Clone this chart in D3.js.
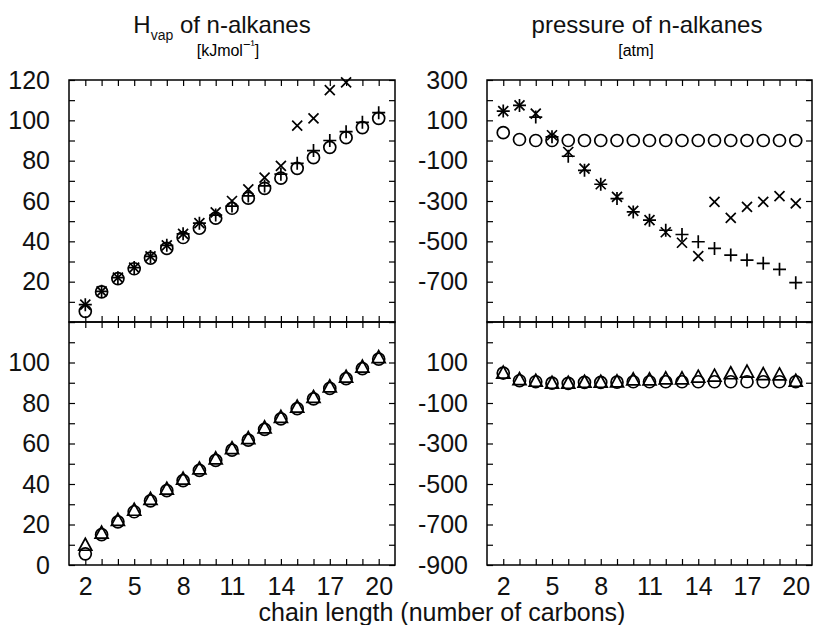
<!DOCTYPE html>
<html>
<head>
<meta charset="utf-8">
<script src="https://cdn.jsdelivr.net/npm/d3@7"></script>
<style>
  body { margin: 0; background: #fff; }
  svg { display: block; font-family: "Liberation Sans", Arial, Helvetica, sans-serif; }
</style>
</head>
<body>
<svg id="chart" width="813" height="625"></svg>
<script>
// chain length (number of carbons)
const carbons = [2, 3, 4, 5, 6, 7, 8, 9, 10, 11, 12, 13, 14, 15, 16, 17, 18, 19, 20]
const xLabels = [2, 5, 8, 11, 14, 17, 20]

// Hvap, top panel
const hvapCircleTop = [5.3, 14.9, 21.5, 26.4, 31.7, 36.5, 41.9, 46.5, 51.5, 56.4, 61.4, 66.3, 71.3, 76.2, 81.5, 86.6, 91.4, 96.4, 101.0]
const hvapPlusTop   = [8.6, 15.2, 22.0, 27.0, 32.5, 38.0, 43.7, 49.0, 53.0, 57.5, 62.5, 67.5, 73.3, 78.7, 85.0, 90.0, 94.4, 99.0, 103.8]
const hvapCrossTop  = [8.6, 15.2, 22.0, 27.0, 32.5, 38.0, 43.7, 49.0, 54.4, 60.0, 65.8, 71.6, 77.4, 97.4, 101.0, 115.0, 118.8, null, null]
// Hvap, bottom panel
const hvapCircleBot = [5.5, 15.0, 21.3, 26.3, 31.7, 36.7, 41.7, 46.7, 51.7, 56.7, 61.7, 67.0, 72.2, 77.2, 82.0, 87.2, 92.0, 97.0, 101.7]
const hvapTriBot    = [9.5, 15.5, 21.8, 26.8, 32.2, 37.2, 42.2, 47.2, 52.2, 57.2, 62.2, 67.5, 72.7, 77.7, 82.5, 87.7, 92.5, 97.5, 102.2]

// pressure, top panel
const presCircleTop = [39, 5, 0, 0, 0, 0, 0, 0, 0, 0, 0, 0, 0, 0, 0, 0, 0, 0, 0]
const presPlusTop   = [146, 174, 116, 18, -78, -148, -217, -288, -354, -395, -445, -466, -502, -535, -568, -593, -609, -639, -705]
const presCrossTop  = [146, 174, 133, 26, -57, -139, -217, -280, -349, -395, -455, -507, -573, -304, -384, -329, -304, -276, -312]
// pressure, bottom panel
const presCircleBot = [48, 10, 5, -2, -3, 2, 2, 3, 5, 5, 5, 5, 5, 5, 5, 5, 5, 5, 5]
const presTriBot    = [45, 13, 5, -5, -5, 0, 0, 2, 12, 12, 17, 17, 25, 30, 42, 50, 38, 36, 5]

const hvapTicks     = [0, 10, 20, 30, 40, 50, 60, 70, 80, 90, 100, 110, 120]
const hvapLabelsTop = [20, 40, 60, 80, 100, 120]
const hvapLabelsBot = [0, 20, 40, 60, 80, 100]
const presTicks     = [-900, -800, -700, -600, -500, -400, -300, -200, -100, 0, 100, 200, 300]
const presLabelsTop = [300, 100, -100, -300, -500, -700]
const presLabelsBot = [100, -100, -300, -500, -700, -900]

const svg = d3.select('#chart')
const TICK = 6
const FONT = '"Liberation Sans", Arial, sans-serif'

const COL_X = [[69, 395], [487, 812]]
const ROW_Y = [[80, 322], [322, 565]]

const panels = [
  { col: 0, row: 0, domain: [0, 120], ticks: hvapTicks, labels: hvapLabelsTop,
    series: [{ v: hvapCircleTop, sym: 'circle' }, { v: hvapPlusTop, sym: 'plus' }, { v: hvapCrossTop, sym: 'cross' }] },
  { col: 0, row: 1, domain: [0, 120], ticks: hvapTicks, labels: hvapLabelsBot,
    series: [{ v: hvapCircleBot, sym: 'circle' }, { v: hvapTriBot, sym: 'tri' }] },
  { col: 1, row: 0, domain: [-900, 300], ticks: presTicks, labels: presLabelsTop,
    series: [{ v: presCircleTop, sym: 'circle' }, { v: presPlusTop, sym: 'plus' }, { v: presCrossTop, sym: 'cross' }] },
  { col: 1, row: 1, domain: [-900, 300], ticks: presTicks, labels: presLabelsBot,
    series: [{ v: presCircleBot, sym: 'circle' }, { v: presTriBot, sym: 'tri' }] },
]

function symbolPath(sym) {
  if (sym === 'circle') return 'M6,0A6,6 0 1,1 -6,0A6,6 0 1,1 6,0Z'
  if (sym === 'plus')   return 'M-6.5,0H6.5M0,-6.5V6.5'
  if (sym === 'cross')  return 'M-5,-5L5,5M-5,5L5,-5'
  return 'M0,-7.5L6.5,4.5H-6.5Z'
}

for (const p of panels) {
  const [x0, x1] = COL_X[p.col]
  const [y0, y1] = ROW_Y[p.row]
  const x = d3.scaleLinear().domain([1, 21]).range([x0, x1])
  const y = d3.scaleLinear().domain(p.domain).range([y1, y0])
  const g = svg.append('g')

  // inward ticks on all four sides
  g.append('g').attr('transform', `translate(${x0},0)`)
    .call(d3.axisLeft(y).tickValues(p.ticks).tickSize(-TICK).tickSizeOuter(0).tickFormat(''))
  g.append('g').attr('transform', `translate(${x1},0)`)
    .call(d3.axisRight(y).tickValues(p.ticks).tickSize(-TICK).tickSizeOuter(0).tickFormat(''))
  g.append('g').attr('transform', `translate(0,${y0})`)
    .call(d3.axisTop(x).tickValues(carbons).tickSize(-TICK).tickSizeOuter(0).tickFormat(''))
  g.append('g').attr('transform', `translate(0,${y1})`)
    .call(d3.axisBottom(x).tickValues(carbons).tickSize(-TICK).tickSizeOuter(0).tickFormat(''))
  g.selectAll('.tick text').remove()

  // labels (plain hyphen for negatives, as in the original)
  g.append('g').attr('class', 'lbl').attr('transform', `translate(${x0},0)`)
    .call(d3.axisLeft(y).tickValues(p.labels).tickSize(0).tickPadding(19).tickFormat(d => String(d)))
  if (p.row === 1) {
    g.append('g').attr('class', 'lbl').attr('transform', `translate(0,${y1})`)
      .call(d3.axisBottom(x).tickValues(xLabels).tickSize(0).tickPadding(12).tickFormat(d => String(d)))
  }

  g.selectAll('.domain').remove()
  g.selectAll('.tick line').attr('stroke', '#000').attr('stroke-width', 1.2)
  g.selectAll('.lbl .tick text').attr('fill', '#111').attr('font-size', '25px').attr('font-family', FONT)

  g.append('rect')
    .attr('x', x0).attr('y', y0).attr('width', x1 - x0).attr('height', y1 - y0)
    .attr('fill', 'none').attr('stroke', '#000').attr('stroke-width', 1.5)

  for (const s of p.series) {
    const pts = carbons.map((c, i) => [c, s.v[i]]).filter(d => d[1] != null)
    g.append('g').selectAll('path').data(pts).enter().append('path')
      .attr('transform', d => `translate(${x(d[0])},${y(d[1])})`)
      .attr('d', symbolPath(s.sym))
      .attr('fill', 'none').attr('stroke', '#000').attr('stroke-width', 1.7)
  }
}

// titles
const hTitle = svg.append('text').attr('x', 222).attr('y', 33)
  .attr('text-anchor', 'middle').attr('font-size', '24px').attr('fill', '#111')
hTitle.append('tspan').text('H')
hTitle.append('tspan').text('vap').attr('font-size', '14px').attr('dy', 7)
hTitle.append('tspan').text(' of n-alkanes').attr('dy', -7)

const hUnit = svg.append('text').attr('x', 228).attr('y', 56)
  .attr('text-anchor', 'middle').attr('font-size', '16px').attr('fill', '#000')
hUnit.append('tspan').text('[kJmol')
hUnit.append('tspan').text('\u2212\u00b9').attr('font-size', '13px').attr('dy', -7)
hUnit.append('tspan').text(']').attr('dy', 7)

svg.append('text').attr('x', 647).attr('y', 33)
  .attr('text-anchor', 'middle').attr('font-size', '24px').attr('fill', '#111')
  .text('pressure of n-alkanes')
svg.append('text').attr('x', 636).attr('y', 56)
  .attr('text-anchor', 'middle').attr('font-size', '16px').attr('fill', '#000')
  .text('[atm]')

svg.append('text').attr('x', 442).attr('y', 621)
  .attr('text-anchor', 'middle').attr('font-size', '25px').attr('fill', '#111')
  .text('chain length (number of carbons)')
</script>
</body>
</html>
